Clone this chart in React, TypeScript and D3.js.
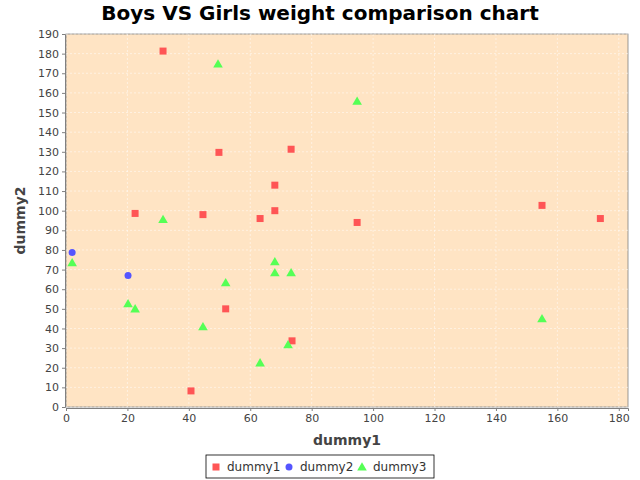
import { useEffect, useRef } from 'react';
import * as d3 from 'd3';

const dummy1X = [31.6, 49.8, 73.3, 68, 68, 22.5, 44.6, 63.2, 94.8, 155, 174, 52, 73.6, 40.7];
const dummy1Y = [181.3, 129.7, 131.3, 113, 100, 98.6, 98, 96, 94, 102.7, 96, 50, 33.7, 8.2];
const dummy2X = [2, 20.2];
const dummy2Y = [78.7, 67];
const dummy3X = [49.5, 94.8, 31.6, 2, 68, 68, 73.3, 52, 20.2, 22.5, 44.6, 155, 72.3, 63.2];
const dummy3Y = [174.7, 155.8, 95.5, 73.5, 74, 68.4, 68.4, 63.3, 52.6, 50, 40.9, 45, 31.7, 22.5];
const seriesNames = ['dummy1', 'dummy2', 'dummy3'];
const colors = ['#ff5555', '#5555ff', '#55ff55'];

export default function App() {
  const ref = useRef<SVGSVGElement>(null);

  useEffect(() => {
    const svg = d3.select(ref.current);
    svg.selectAll('*').remove();
    const font = 'DejaVu Sans, sans-serif';
    const left = 66, right = 628, top = 34, bottom = 407;
    const x = d3.scaleLinear().domain([0, 183]).range([left, right]);
    const y = d3.scaleLinear().domain([0, 190]).range([bottom, top]);

    svg.append('text').attr('x', 320).attr('y', 20).attr('text-anchor', 'middle')
      .style('font', `bold 20px ${font}`).text('Boys VS Girls weight comparison chart');

    svg.append('rect').attr('x', left).attr('y', top).attr('width', right - left).attr('height', bottom - top)
      .attr('fill', '#ffe4c4').attr('stroke', '#808080').attr('stroke-width', 0.8);

    const gx = svg.append('g');
    x.ticks(10).forEach(t => gx.append('line').attr('x1', x(t)).attr('x2', x(t)).attr('y1', top).attr('y2', bottom)
      .attr('stroke', '#fff').attr('stroke-width', 0.5).attr('stroke-dasharray', '2,2'));
    d3.range(0, 191, 10).forEach(t => gx.append('line').attr('x1', left).attr('x2', right).attr('y1', y(t)).attr('y2', y(t))
      .attr('stroke', '#fff').attr('stroke-width', 0.5).attr('stroke-dasharray', '2,2'));

    const ax = svg.append('g').attr('transform', `translate(0,${bottom + 1})`)
      .call(d3.axisBottom(x).tickValues(d3.range(0, 181, 20)).tickSize(3));
    const ay = svg.append('g').attr('transform', `translate(${left - 1},0)`)
      .call(d3.axisLeft(y).tickValues(d3.range(0, 191, 10)).tickSize(3));
    [ax, ay].forEach(a => {
      a.selectAll('text').style('font', `11px ${font}`).attr('fill', '#444');
      a.selectAll('line,path').attr('stroke', '#808080');
    });

    svg.append('text').attr('x', (left + right) / 2).attr('y', 445).attr('text-anchor', 'middle')
      .style('font', `bold 14px ${font}`).attr('fill', '#444').text('dummy1');
    svg.append('text').attr('transform', `translate(25,${(top + bottom) / 2}) rotate(-90)`).attr('text-anchor', 'middle')
      .style('font', `bold 14px ${font}`).attr('fill', '#444').text('dummy2');

    const tri = d3.symbol().type(d3.symbolTriangle).size(40);
    const drawMark = (g: any, i: number, px: number, py: number) => {
      if (i === 0) g.append('rect').attr('x', px - 3.5).attr('y', py - 3.5).attr('width', 7).attr('height', 7).attr('fill', colors[0]);
      else if (i === 1) g.append('circle').attr('cx', px).attr('cy', py).attr('r', 3.5).attr('fill', colors[1]);
      else g.append('path').attr('d', tri()).attr('transform', `translate(${px},${py + 0.8})`).attr('fill', colors[2]);
    };
    const data: [number[], number[]][] = [[dummy1X, dummy1Y], [dummy2X, dummy2Y], [dummy3X, dummy3Y]];
    const pts = svg.append('g');
    data.forEach(([xs, ys], i) => xs.forEach((v, j) => drawMark(pts, i, x(v), y(ys[j]))));

    const lg = svg.append('g');
    lg.append('rect').attr('x', 206).attr('y', 455).attr('width', 228).attr('height', 23)
      .attr('fill', '#fff').attr('stroke', '#000').attr('stroke-width', 0.8);
    const lx = [216, 289, 362];
    seriesNames.forEach((n, i) => {
      drawMark(lg, i, lx[i], 467);
      lg.append('text').attr('x', lx[i] + 11).attr('y', 471).style('font', `12px ${font}`).attr('fill', '#333').text(n);
    });
  }, []);

  return <svg ref={ref} width={640} height={480} style={{ position: 'absolute', left: 0, top: 0, background: '#fff' }} />;
}
